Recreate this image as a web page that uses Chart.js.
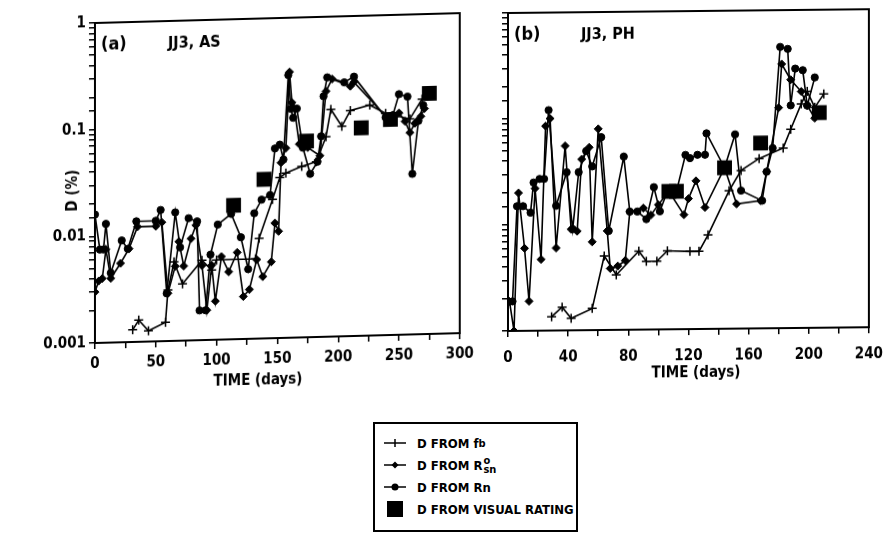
<!DOCTYPE html>
<html>
<head>
<meta charset="utf-8">
<script src="https://cdn.jsdelivr.net/npm/chart.js@4.4.1/dist/chart.umd.min.js"></script>
<style>
  body { margin: 0; background: #fff; width: 895px; height: 543px; position: relative; overflow: hidden;
         font-family: 'Liberation Sans Narrow', 'DejaVu Sans Condensed', 'Arial Narrow', sans-serif; }
  #wa { position: absolute; left: 0; top: 0; transform: skewY(-1.55deg); transform-origin: 95px 0; }
  #wb { position: absolute; left: 440px; top: 0; transform: skewY(-0.6deg); transform-origin: 68px 0; }
  #legend { position: absolute; left: 373px; top: 422px; width: 205px; height: 110px;
            border: 2px solid #000; box-sizing: border-box; font-weight: bold; font-size: 13px; color: #000; }
  .row { position: absolute; left: 8px; height: 20px; display: flex; align-items: center; white-space: nowrap; }
  .row svg { margin-right: 10px; }
  .ss { display: inline-flex; flex-direction: column; font-size: 11px; line-height: 9px; vertical-align: middle; margin-left: 1px; }
  sub { font-size: 11px; }
</style>
</head>
<body>
<div id="wa"><canvas id="ca" width="480" height="400"></canvas></div>
<div id="wb"><canvas id="cb" width="455" height="400"></canvas></div>
<div id="legend">
  <div class="row" style="top:9px"><svg width="24" height="14"><line x1="1" y1="7" x2="23" y2="7" stroke="#000" stroke-width="1.5"/><line x1="12" y1="3" x2="12" y2="11" stroke="#000" stroke-width="1.5"/></svg>D FROM f<sub>b</sub></div>
  <div class="row" style="top:31px"><svg width="24" height="14"><line x1="1" y1="7" x2="23" y2="7" stroke="#000" stroke-width="1.5"/><polygon points="12,3.5 15.5,7 12,10.5 8.5,7" fill="#000"/></svg>D FROM R<span class="ss"><span>o</span><span>sn</span></span></div>
  <div class="row" style="top:53px"><svg width="24" height="14"><line x1="1" y1="7" x2="23" y2="7" stroke="#000" stroke-width="1.5"/><circle cx="12" cy="7" r="3.5" fill="#000"/></svg>D FROM Rn</div>
  <div class="row" style="top:75px"><svg width="24" height="16"><rect x="4" y="0" width="16" height="16" fill="#000"/></svg>D FROM VISUAL RATING</div>
</div>
<script>
// ---- panel (a): JJ3, AS ----
const daysFbA  = [31, 36, 44, 58, 60, 65, 72, 88, 96, 100, 132, 135, 146, 152, 157, 170, 182, 190, 194, 203, 210, 226, 239, 259, 269];
const valFbA   = [0.0013, 0.0016, 0.00126, 0.0015, 0.003, 0.0055, 0.0034, 0.0056, 0.0045, 0.0056, 0.0056, 0.0087, 0.02, 0.032, 0.035, 0.04, 0.044, 0.075, 0.135, 0.093, 0.13, 0.145, 0.12, 0.105, 0.16];

const daysRsnA = [0, 3, 6, 9, 13, 21, 28, 35, 50, 55, 60, 66, 69, 73, 79, 83, 88, 92, 96, 99, 104, 110, 117, 122, 127, 133, 138, 145, 148, 151, 153, 157, 160, 162, 164, 168, 175, 185, 190, 195, 210, 213, 240, 246, 250, 255, 259, 263, 268, 271];
const valRsnA  = [0.003, 0.0038, 0.004, 0.0075, 0.004, 0.0055, 0.0075, 0.012, 0.012, 0.013, 0.0028, 0.005, 0.0085, 0.005, 0.009, 0.012, 0.005, 0.0019, 0.005, 0.0023, 0.006, 0.0043, 0.0065, 0.0025, 0.0029, 0.0055, 0.0038, 0.0052, 0.012, 0.01, 0.044, 0.06, 0.31, 0.16, 0.14, 0.065, 0.06, 0.05, 0.2, 0.26, 0.22, 0.24, 0.11, 0.11, 0.12, 0.1, 0.078, 0.095, 0.11, 0.13];

const daysRnA  = [0, 4, 7, 9, 13, 22, 27, 34, 50, 54, 59, 66, 70, 77, 84, 86, 91, 95, 101, 112, 120, 126, 131, 137, 144, 148, 152, 155, 159, 161, 163, 166, 171, 177, 183, 186, 188, 191, 205, 213, 239, 245, 250, 257, 261, 266, 270];
const valRnA   = [0.016, 0.0075, 0.0075, 0.013, 0.0045, 0.009, 0.0075, 0.0135, 0.0135, 0.017, 0.0028, 0.016, 0.0075, 0.014, 0.013, 0.0019, 0.0019, 0.0063, 0.012, 0.015, 0.009, 0.0045, 0.015, 0.02, 0.022, 0.06, 0.065, 0.047, 0.29, 0.14, 0.115, 0.14, 0.06, 0.034, 0.044, 0.076, 0.18, 0.27, 0.24, 0.27, 0.11, 0.115, 0.18, 0.17, 0.032, 0.1, 0.14];

const daysVisA = [114, 139, 174, 219, 243, 275];
const valVisA  = [0.018, 0.031, 0.069, 0.089, 0.105, 0.18];

// ---- panel (b): JJ3, PH ----
const daysFbB  = [29, 36, 42, 56, 64, 72, 87, 92, 99, 106, 121, 127, 133, 147, 155, 167, 183, 188, 195, 199, 204, 210];
const valFbB   = [0.00135, 0.00166, 0.0013, 0.0016, 0.005, 0.0033, 0.0055, 0.0044, 0.0044, 0.0055, 0.0054, 0.0054, 0.0077, 0.02, 0.031, 0.04, 0.05, 0.075, 0.13, 0.17, 0.12, 0.16];

const daysRsnB = [1, 4, 7, 11, 14, 18, 22, 25, 28, 32, 38, 42, 46, 49, 54, 56, 60, 66, 68, 73, 78, 81, 90, 95, 100, 107, 117, 120, 125, 131, 144, 152, 168, 172, 180, 182, 188, 195, 199, 204];
const valRsnB  = [0.0019, 0.001, 0.02, 0.006, 0.0019, 0.022, 0.0047, 0.085, 0.1, 0.006, 0.055, 0.009, 0.0086, 0.041, 0.053, 0.0068, 0.079, 0.0086, 0.0038, 0.004, 0.0045, 0.013, 0.014, 0.012, 0.015, 0.02, 0.012, 0.017, 0.025, 0.014, 0.033, 0.015, 0.016, 0.03, 0.12, 0.31, 0.22, 0.17, 0.125, 0.095];

const daysRnB  = [3, 6, 10, 15, 17, 21, 24, 27, 32, 39, 43, 47, 52, 56, 62, 67, 77, 81, 86, 92, 97, 101, 106, 112, 118, 121, 126, 131, 132, 144, 151, 155, 169, 172, 176, 181, 186, 188, 191, 196, 199, 204];
const valRnB   = [0.0019, 0.015, 0.015, 0.013, 0.025, 0.027, 0.027, 0.12, 0.015, 0.031, 0.009, 0.031, 0.049, 0.035, 0.066, 0.0086, 0.043, 0.013, 0.013, 0.011, 0.022, 0.013, 0.02, 0.02, 0.044, 0.041, 0.044, 0.044, 0.07, 0.033, 0.068, 0.02, 0.016, 0.03, 0.05, 0.45, 0.43, 0.126, 0.28, 0.27, 0.125, 0.23];

const daysVisB = [107, 112, 144, 168, 207];
const valVisB  = [0.02, 0.02, 0.033, 0.056, 0.107];

const yTickLabels = ['0.001', '0.01', '0.1', '1'];

const FONT = "'Liberation Sans Narrow', 'DejaVu Sans Condensed', 'Arial Narrow', sans-serif";

function pts(xs, ys) {
  return xs.map((x, i) => ({ x: x, y: ys[i] }));
}

function lineSet(xs, ys, style, radius, bw) {
  return {
    data: pts(xs, ys), showLine: true, borderColor: '#000', backgroundColor: '#000',
    borderWidth: 1.6, pointStyle: style, pointRadius: radius, pointBorderWidth: bw || 1,
    pointBackgroundColor: '#000', pointBorderColor: '#000'
  };
}

function visSet(xs, ys) {
  return {
    data: pts(xs, ys), showLine: false, pointStyle: 'rect', pointRadius: 10.5,
    pointBackgroundColor: '#000', pointBorderColor: '#000', borderWidth: 0
  };
}

function isDecade(v) {
  const l = Math.log10(v);
  return Math.abs(l - Math.round(l)) < 1e-6;
}

// frame + panel texts
function textPlugin(cfg) {
  return {
    id: 'panelText',
    afterDraw(chart) {
      const { ctx, chartArea } = chart;
      ctx.save();
      ctx.strokeStyle = '#000';
      ctx.lineWidth = 2;
      ctx.strokeRect(chartArea.left, chartArea.top, chartArea.right - chartArea.left, chartArea.bottom - chartArea.top);
      ctx.fillStyle = '#000';
      ctx.textBaseline = 'middle';
      ctx.font = 'bold 18px ' + FONT;
      ctx.fillText(cfg.tag, chartArea.left + 6, chartArea.top + 22);
      ctx.font = 'bold 16px ' + FONT;
      ctx.fillText(cfg.name, chartArea.left + 73, chartArea.top + 23);
      ctx.font = 'bold 15px ' + FONT;
      ctx.textAlign = 'center';
      ctx.fillText('TIME (days)', cfg.titleX, cfg.titleY);
      if (cfg.yTitle) {
        ctx.translate(73, 190);
        ctx.rotate(-Math.PI / 2);
        ctx.fillText(cfg.yTitle, 0, 0);
      }
      ctx.restore();
    }
  };
}

function makeChart(id, sets, xMax, xStep, xLabelStep, yWidth, showY, pad, labelPad, cfg) {
  return new Chart(document.getElementById(id), {
    type: 'line',
    data: { datasets: sets },
    options: {
      responsive: false, animation: false, devicePixelRatio: 1,
      layout: { padding: pad },
      plugins: { legend: { display: false }, tooltip: { enabled: false } },
      elements: { line: { tension: 0 } },
      scales: {
        x: {
          type: 'linear', min: 0, max: xMax,
          ticks: {
            stepSize: xStep, autoSkip: false, maxRotation: 0, color: '#000', padding: labelPad,
            font: { family: FONT, size: 15, weight: 'bold' },
            callback: v => (v % xLabelStep === 0 ? String(v) : '')
          },
          grid: { drawOnChartArea: false, tickLength: 6, color: '#000', lineWidth: 1.5 },
          border: { color: '#000', width: 2 },
          afterFit: s => { s.height = 52; }
        },
        y: {
          type: 'logarithmic', min: 0.001, max: 1,
          ticks: {
            autoSkip: false, color: '#000', padding: 3,
            font: { family: FONT, size: 15, weight: 'bold' },
            callback: v => (showY && isDecade(v) ? yTickLabels[Math.round(Math.log10(v)) + 3] : '')
          },
          grid: { drawOnChartArea: false, tickLength: 6, color: '#000', lineWidth: 1.5 },
          border: { color: '#000', width: 2 },
          afterFit: s => { s.width = yWidth; }
        }
      }
    },
    plugins: [textPlugin(cfg)]
  });
}

makeChart('ca', [
  lineSet(daysFbA, valFbA, 'cross', 4.5, 1.5),
  lineSet(daysRsnA, valRsnA, 'rectRot', 4),
  lineSet(daysRnA, valRnA, 'circle', 3.6),
  visSet(daysVisA, valVisA)
], 300, 25, 50, 95, true, { top: 23, right: 17, bottom: 5, left: 0 }, 6,
  { tag: '(a)', name: 'JJ3, AS', titleX: 258, titleY: 385, yTitle: 'D (%)' });

makeChart('cb', [
  lineSet(daysFbB, valFbB, 'cross', 4.5, 1.5),
  lineSet(daysRsnB, valRsnB, 'rectRot', 4),
  lineSet(daysRnB, valRnB, 'circle', 3.6),
  visSet(daysVisB, valVisB)
], 240, 20, 40, 68, false, { top: 13, right: 19, bottom: 17, left: 0 }, 12,
  { tag: '(b)', name: 'JJ3, PH', titleX: 256, titleY: 375, yTitle: null });
</script>
</body>
</html>
